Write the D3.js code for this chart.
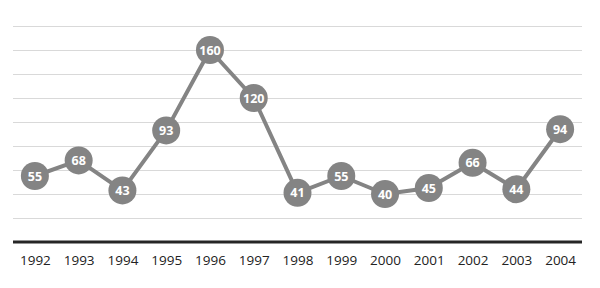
<!DOCTYPE html>
<html>
<head>
<meta charset="utf-8">
<script src="https://cdn.jsdelivr.net/npm/d3@7"></script>
<style>
  body { margin: 0; background: #fff; }
  svg { display: block; }
</style>
</head>
<body>
<div id="main"></div>
<script>
const years = ["1992", "1993", "1994", "1995", "1996", "1997", "1998", "1999", "2000", "2001", "2002", "2003", "2004"];
const values = [55, 68, 43, 93, 160, 120, 41, 55, 40, 45, 66, 44, 94];
const gridTicks = [20, 40, 60, 80, 100, 120, 140, 160, 180];

const ctx = {
    width: 600,
    height: 288,
    margin: {top: 26, right: 18, bottom: 46, left: 13}
};
const innerW = ctx.width - ctx.margin.left - ctx.margin.right;
const innerH = ctx.height - ctx.margin.top - ctx.margin.bottom;

const svg = d3.select("#main").append("svg")
    .attr("width", ctx.width)
    .attr("height", ctx.height);

const chart = svg.append("g")
    .attr("transform", `translate(${ctx.margin.left},${ctx.margin.top})`);

const x = d3.scalePoint().domain(years).range([0, innerW]).padding(0.5);
const y = d3.scaleLinear().domain([0, 180]).range([innerH, 0]);

// horizontal gridlines
chart.selectAll(".grid")
    .data(gridTicks)
    .enter().append("line")
    .attr("class", "grid")
    .attr("x1", 0)
    .attr("x2", innerW)
    .attr("y1", d => Math.round(y(d)) + 0.5)
    .attr("y2", d => Math.round(y(d)) + 0.5)
    .attr("stroke", "#d9d9d9")
    .attr("stroke-width", 1);

// x axis (thick baseline, no ticks)
const xAxis = chart.append("g")
    .attr("transform", `translate(0,${innerH})`)
    .call(d3.axisBottom(x).tickSize(0).tickPadding(13));
xAxis.select(".domain")
    .attr("stroke", "#262626")
    .attr("stroke-width", 3)
    .attr("d", `M0,0H${innerW}`);
xAxis.selectAll("text")
    .attr("font-family", "'Open Sans', sans-serif")
    .attr("font-size", 13.5)
    .attr("fill", "#222");

// line
const line = d3.line()
    .x((d, i) => x(years[i]))
    .y(d => y(d));

chart.append("path")
    .datum(values)
    .attr("d", line)
    .attr("fill", "none")
    .attr("stroke", "#848484")
    .attr("stroke-width", 4)
    .attr("stroke-linejoin", "round");

// markers
const pts = chart.selectAll(".pt")
    .data(values)
    .enter().append("g")
    .attr("class", "pt")
    .attr("transform", (d, i) => `translate(${x(years[i])},${y(d)})`);

pts.append("circle")
    .attr("r", 14)
    .attr("fill", "#848484");

pts.append("text")
    .text(d => d)
    .attr("text-anchor", "middle")
    .attr("dy", "0.36em")
    .attr("font-family", "'Open Sans', sans-serif")
    .attr("font-weight", "bold")
    .attr("font-size", 12.5)
    .attr("fill", "#fff");
</script>
</body>
</html>
